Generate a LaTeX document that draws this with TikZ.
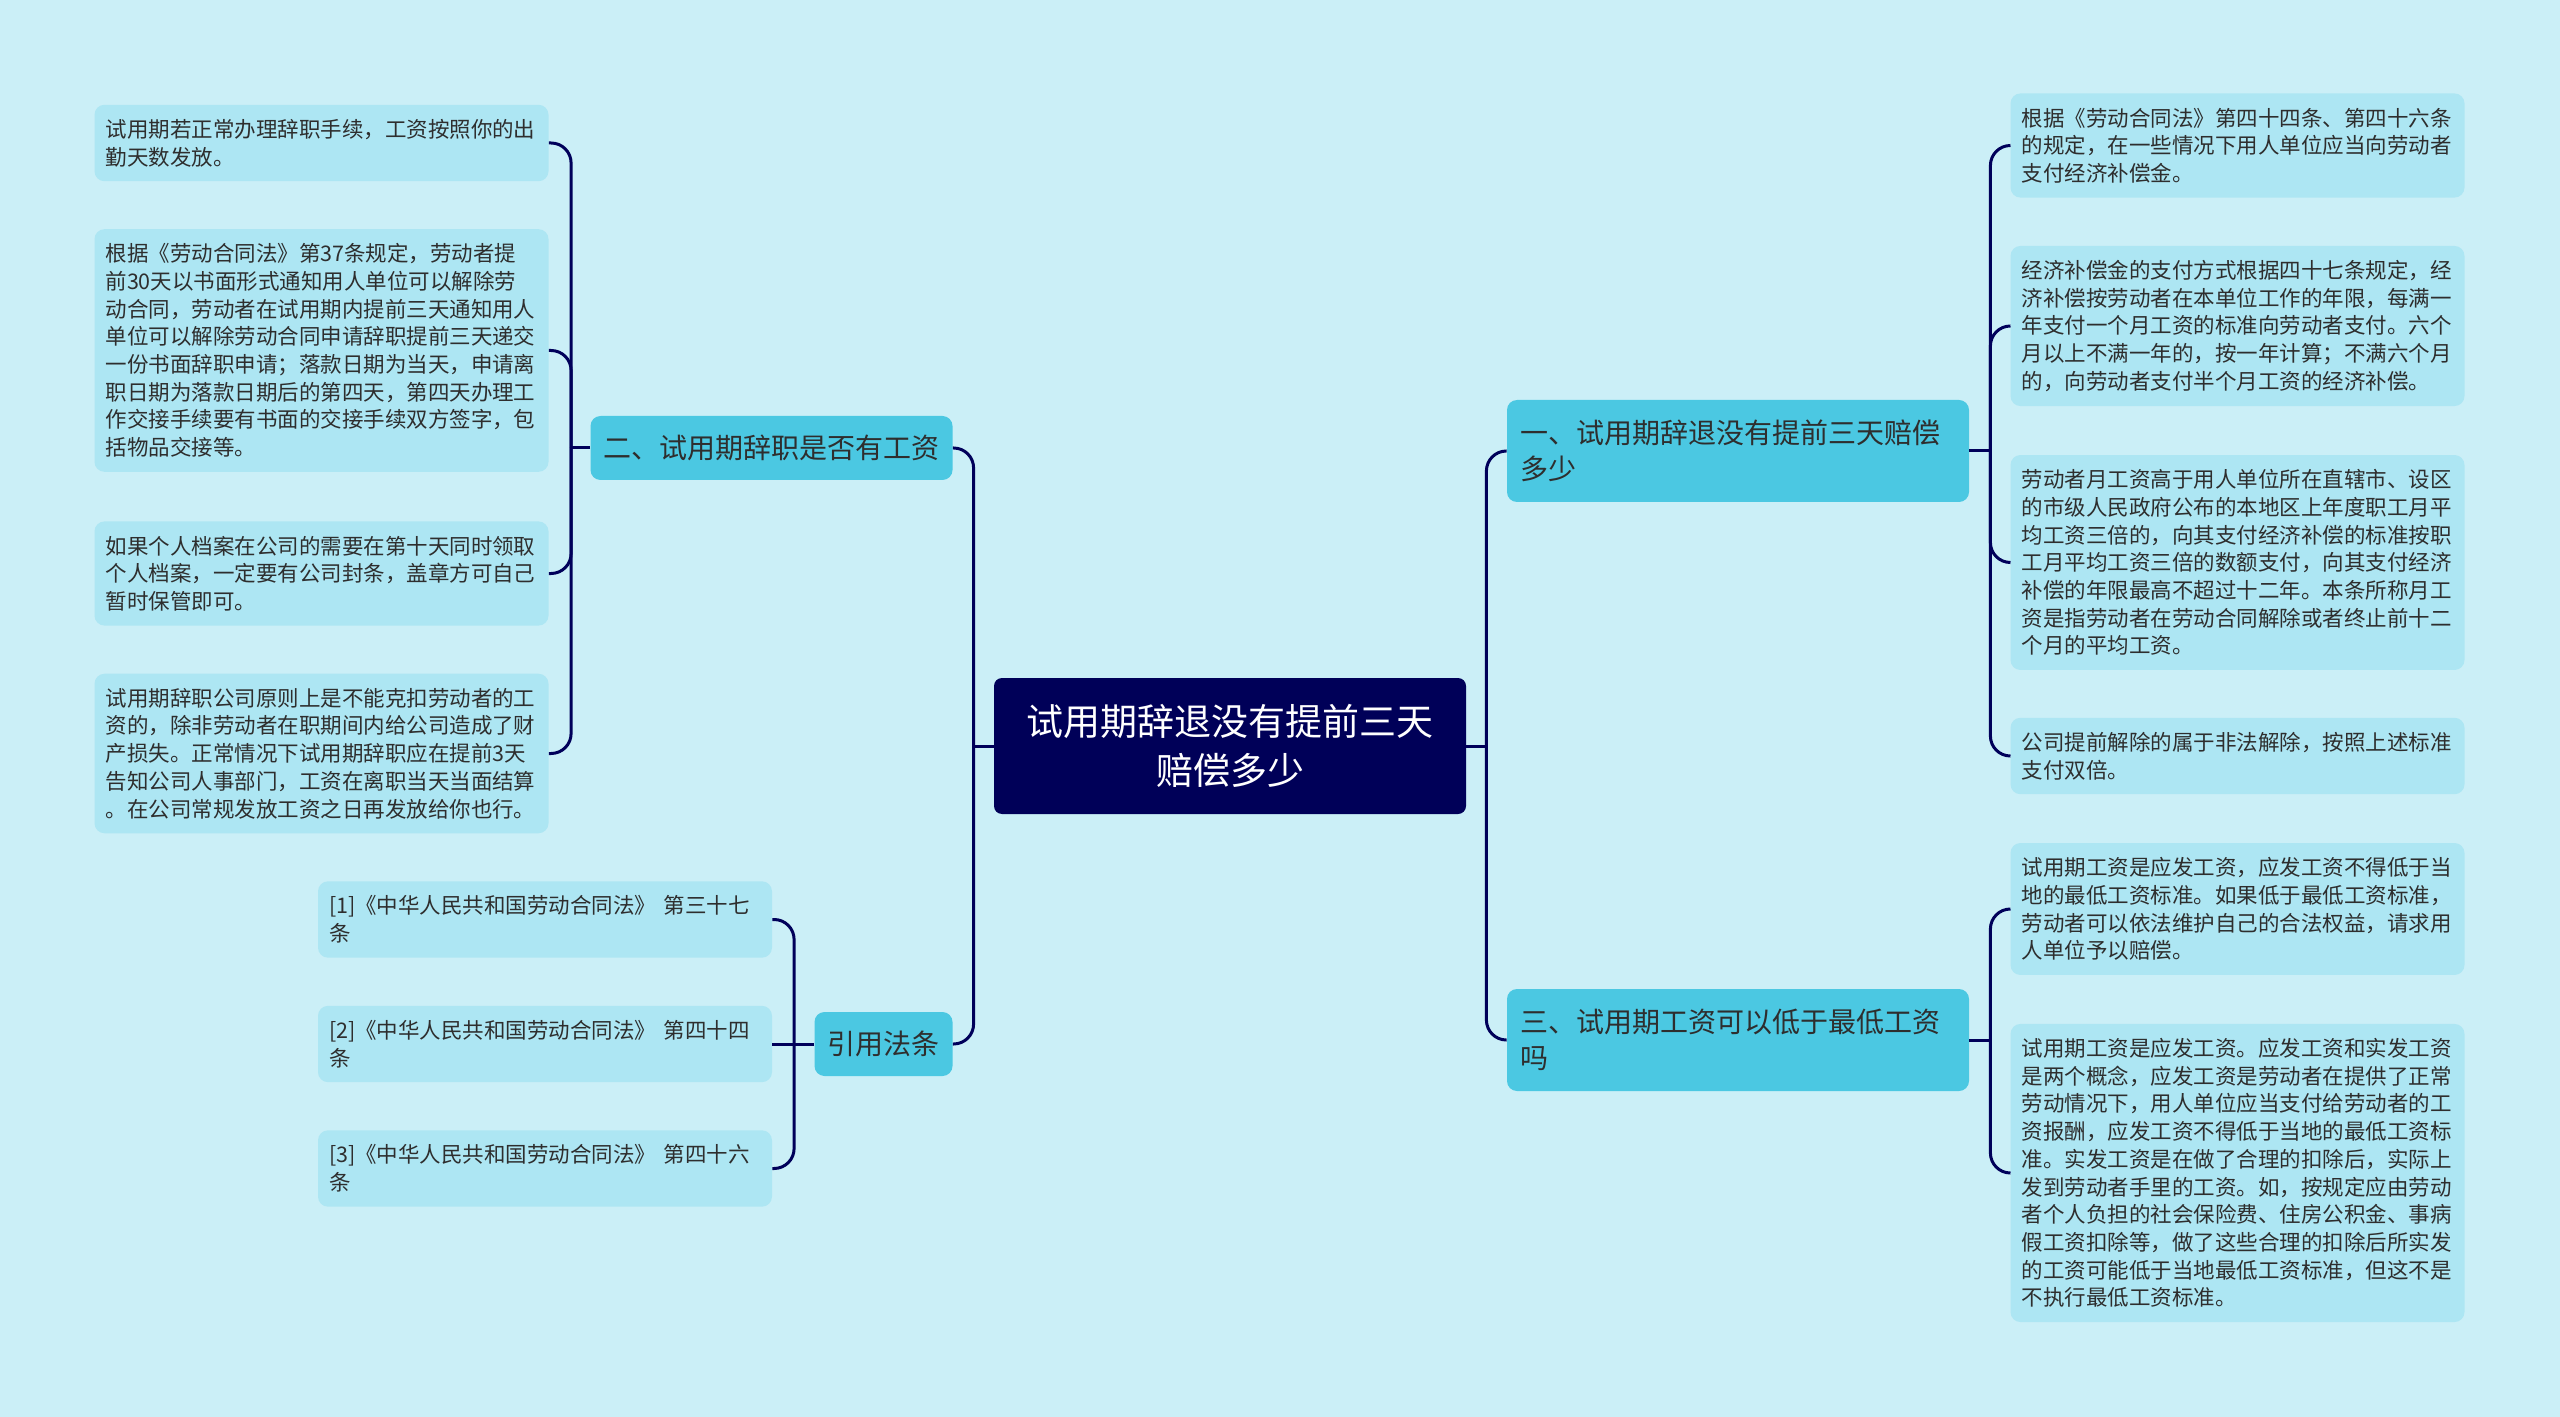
\documentclass[tikz,border=0pt]{standalone}
\usepackage{fontspec}
\setmainfont{Noto Sans CJK SC}
\usepackage{tikz}
\usetikzlibrary{calc}

\definecolor{bgcyan}{HTML}{CBEFF7}
\definecolor{leafblue}{HTML}{ADE6F3}
\definecolor{topicblue}{HTML}{4BC8E2}
\definecolor{rootnavy}{HTML}{000058}
\definecolor{linknavy}{HTML}{00005A}
\definecolor{inkgray}{HTML}{2E2E2E}

\tikzset{
    rootbox/.style={fill=rootnavy,rounded corners=4pt,text=white,align=center,
        font=\fontsize{18.5}{24.5}\selectfont,minimum width=236pt,minimum height=68pt},
    topic/.style={fill=topicblue,rounded corners=5pt,text=inkgray,align=left,
        font=\fontsize{14}{18}\selectfont,inner xsep=6.5pt,minimum height=32pt},
    leaf/.style={fill=leafblue,rounded corners=5pt,text=inkgray,align=left,
        font=\fontsize{10.75}{13.85}\selectfont,text width=216pt,inner xsep=5.5pt,inner ysep=7.2pt},
    link/.style={draw=linknavy,line width=1.5pt,rounded corners=10pt},
}

\begin{document}
\begin{tikzpicture}[x=0.5pt,y=-0.5pt]
    \fill[bgcyan] (0,0) rectangle (2560,1417);
    \useasboundingbox (0,0) rectangle (2560,1417);

    % centre
    \node[rootbox] (root) at (1230,746) {试用期辞退没有提前三天\\赔偿多少};

    % first level
    \node[topic,text width=218pt,minimum height=51pt] (q1) at (1738,451) {一、试用期辞退没有提前三天赔偿\\多少};
    \node[topic,text width=218pt,minimum height=51pt] (q3) at (1738,1040) {三、试用期工资可以低于最低工资\\吗};
    \node[topic] (q2) at (771.5,448) {二、试用期辞职是否有工资};
    \node[topic] (refs) at (883.5,1044) {引用法条};

    % right leaves
    \node[leaf] (r1) at (2237.5,145.5) {根据《劳动合同法》第四十四条、第四十六条\\的规定，在一些情况下用人单位应当向劳动者\\支付经济补偿金。};
    \node[leaf] (r2) at (2237.5,326) {经济补偿金的支付方式根据四十七条规定，经\\济补偿按劳动者在本单位工作的年限，每满一\\年支付一个月工资的标准向劳动者支付。六个\\月以上不满一年的，按一年计算；不满六个月\\的，向劳动者支付半个月工资的经济补偿。};
    \node[leaf] (r3) at (2237.5,562.5) {劳动者月工资高于用人单位所在直辖市、设区\\的市级人民政府公布的本地区上年度职工月平\\均工资三倍的，向其支付经济补偿的标准按职\\工月平均工资三倍的数额支付，向其支付经济\\补偿的年限最高不超过十二年。本条所称月工\\资是指劳动者在劳动合同解除或者终止前十二\\个月的平均工资。};
    \node[leaf] (r4) at (2237.5,756) {公司提前解除的属于非法解除，按照上述标准\\支付双倍。};
    \node[leaf] (r5) at (2237.5,909) {试用期工资是应发工资，应发工资不得低于当\\地的最低工资标准。如果低于最低工资标准，\\劳动者可以依法维护自己的合法权益，请求用\\人单位予以赔偿。};
    \node[leaf] (r6) at (2237.5,1173) {试用期工资是应发工资。应发工资和实发工资\\是两个概念，应发工资是劳动者在提供了正常\\劳动情况下，用人单位应当支付给劳动者的工\\资报酬，应发工资不得低于当地的最低工资标\\准。实发工资是在做了合理的扣除后，实际上\\发到劳动者手里的工资。如，按规定应由劳动\\者个人负担的社会保险费、住房公积金、事病\\假工资扣除等，做了这些合理的扣除后所实发\\的工资可能低于当地最低工资标准，但这不是\\不执行最低工资标准。};

    % left leaves
    \node[leaf] (l1) at (321.5,143) {试用期若正常办理辞职手续，工资按照你的出\\勤天数发放。};
    \node[leaf] (l2) at (321.5,350.5) {根据《劳动合同法》第37条规定，劳动者提\\前30天以书面形式通知用人单位可以解除劳\\动合同，劳动者在试用期内提前三天通知用人\\单位可以解除劳动合同申请辞职提前三天递交\\一份书面辞职申请；落款日期为当天，申请离\\职日期为落款日期后的第四天，第四天办理工\\作交接手续要有书面的交接手续双方签字，包\\括物品交接等。};
    \node[leaf] (l3) at (321.5,573.5) {如果个人档案在公司的需要在第十天同时领取\\个人档案，一定要有公司封条，盖章方可自己\\暂时保管即可。};
    \node[leaf] (l4) at (321.5,753.5) {试用期辞职公司原则上是不能克扣劳动者的工\\资的，除非劳动者在职期间内给公司造成了财\\产损失。正常情况下试用期辞职应在提前3天\\告知公司人事部门，工资在离职当天当面结算\\。在公司常规发放工资之日再发放给你也行。};

    % law references
    \node[leaf] (f1) at (545,919.5) {[1]《中华人民共和国劳动合同法》 第三十七\\条};
    \node[leaf] (f2) at (545,1044) {[2]《中华人民共和国劳动合同法》 第四十四\\条};
    \node[leaf] (f3) at (545,1168.5) {[3]《中华人民共和国劳动合同法》 第四十六\\条};

    % connectors
    \coordinate (rootR) at ($(root.east)+(20,0)$);
    \coordinate (rootL) at ($(root.west)+(-20,0)$);
    \draw[link] (root.east) -- (rootR);
    \draw[link] (root.west) -- (rootL);
    \foreach \t in {q1,q3} \draw[link] (rootR) |- (\t.west);
    \foreach \t in {q2,refs} \draw[link] (rootL) |- (\t.east);

    \coordinate (q1R) at ($(q1.east)+(21,0)$);
    \draw[link] (q1.east) -- (q1R);
    \foreach \t in {r1,r2,r3,r4} \draw[link] (q1R) |- (\t.west);

    \coordinate (q3R) at ($(q3.east)+(21,0)$);
    \draw[link] (q3.east) -- (q3R);
    \foreach \t in {r5,r6} \draw[link] (q3R) |- (\t.west);

    \coordinate (q2L) at ($(q2.west)+(-19,0)$);
    \draw[link] (q2.west) -- (q2L);
    \foreach \t in {l1,l2,l3,l4} \draw[link] (q2L) |- (\t.east);

    \coordinate (refsL) at ($(refs.west)+(-20,0)$);
    \draw[link] (refs.west) -- (f2.east);
    \foreach \t in {f1,f3} \draw[link] (refsL) |- (\t.east);
\end{tikzpicture}
\end{document}
